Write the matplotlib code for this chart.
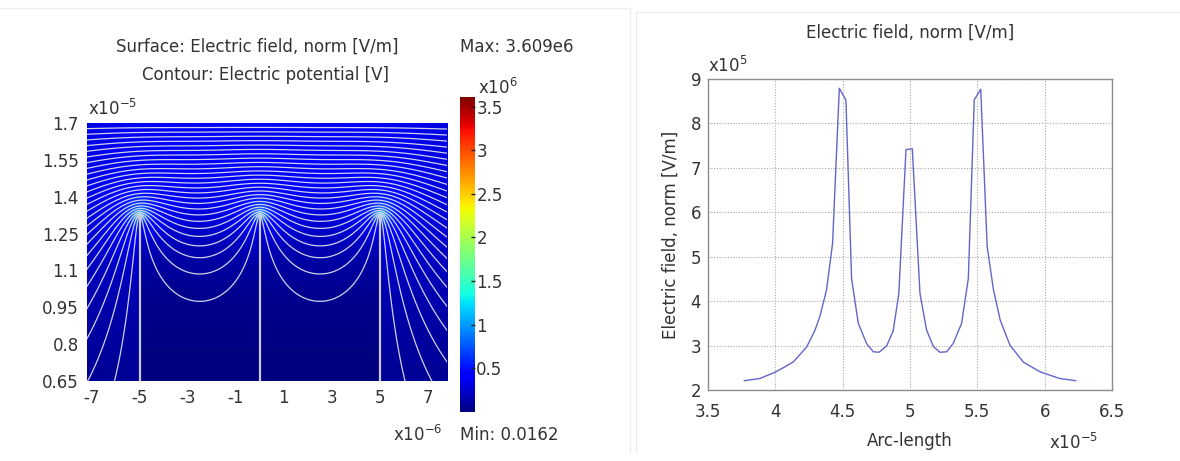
import numpy as np
import matplotlib
matplotlib.use("Agg")
import matplotlib.pyplot as plt
from matplotlib.colors import Normalize
from matplotlib.cm import ScalarMappable
from matplotlib.lines import Line2D

# ---------------------------------------------------------------------------
# Geometry of the electrode array (micrometres)
electrode_x = [-5.0, 0.0, 5.0]
electrode_tip_y = 13.2
domain_x = (-13.0, 13.0)
domain_y = (-1.0, 17.0)
top_potential = 2.0          # V on the upper boundary, electrodes and base at 0 V
n_contour_levels = 26

# Surface-plot range [V/m]
field_min = 0.0162
field_max = 3.609e6
cbar_ticks = [0.5, 1, 1.5, 2, 2.5, 3, 3.5]          # x10^6
cbar_labels = ["0.5", "1", "1.5", "2", "2.5", "3", "3.5"]

# Visible window of the surface plot
view_x = (-7.2, 7.8)          # x10^-6 m
view_y = (0.65, 1.7)          # x10^-5 m
left_xticks = [-7, -5, -3, -1, 1, 3, 5, 7]
left_xlabels = ["-7", "-5", "-3", "-1", "1", "3", "5", "7"]
left_yticks = [0.65, 0.8, 0.95, 1.1, 1.25, 1.4, 1.55, 1.7]
left_ylabels = ["0.65", "0.8", "0.95", "1.1", "1.25", "1.4", "1.55", "1.7"]

# Line graph: field norm along the cut line (arc length x10^-5 m, field x10^5 V/m)
arc_length = [3.77, 3.886, 4.005, 4.133, 4.233, 4.295, 4.33, 4.38, 4.425,
              4.475, 4.524, 4.566, 4.616, 4.677, 4.727, 4.77, 4.826, 4.875,
              4.917, 4.97, 5.017, 5.074, 5.123, 5.173, 5.222, 5.272, 5.321,
              5.383, 5.433, 5.477, 5.525, 5.573, 5.62, 5.67, 5.742, 5.841,
              5.965, 6.11, 6.23]
field_norm = [2.21, 2.26, 2.41, 2.63, 2.97, 3.35, 3.65, 4.25, 5.30,
              8.79, 8.53, 4.51, 3.50, 3.05, 2.86, 2.85, 2.99, 3.33,
              4.17, 7.41, 7.43, 4.17, 3.35, 2.98, 2.85, 2.86, 3.05,
              3.50, 4.51, 8.53, 8.77, 5.22, 4.25, 3.57, 3.01, 2.63,
              2.41, 2.26, 2.21]
right_xticks = [3.5, 4, 4.5, 5, 5.5, 6, 6.5]
right_xlabels = ["3.5", "4", "4.5", "5", "5.5", "6", "6.5"]
right_yticks = [2, 3, 4, 5, 6, 7, 8, 9]
right_ylabels = ["2", "3", "4", "5", "6", "7", "8", "9"]

TEXT = "#333333"
plt.rcParams["font.family"] = ["DejaVu Sans"]
plt.rcParams["font.size"] = 12


# ---------------------------------------------------------------------------
# Laplace solver (red-black SOR, insulating side walls)
def make_grid(h):
    x = np.linspace(domain_x[0], domain_x[1], int(round((domain_x[1] - domain_x[0]) / h)) + 1)
    y = np.linspace(domain_y[0], domain_y[1], int(round((domain_y[1] - domain_y[0]) / h)) + 1)
    fixed = np.zeros((y.size, x.size), bool)
    value = np.zeros((y.size, x.size))
    fixed[0, :] = True
    fixed[-1, :] = True
    value[-1, :] = top_potential
    for xe in electrode_x:
        col = np.argmin(np.abs(x - xe))
        rows = y <= electrode_tip_y + 1e-9
        fixed[rows, col] = True
        value[rows, col] = 0.0
    return x, y, fixed, value


def relax(phi, fixed, value, n_iter):
    ny, nx = phi.shape
    omega = 2.0 / (1.0 + np.sin(np.pi / max(nx, ny)))
    ii, jj = np.indices(phi.shape)
    masks = [((ii + jj) % 2 == c) & ~fixed for c in (0, 1)]
    phi = np.where(fixed, value, phi)
    for _ in range(n_iter):
        for m in masks:
            p = np.pad(phi, 1, mode="reflect")
            avg = 0.25 * (p[:-2, 1:-1] + p[2:, 1:-1] + p[1:-1, :-2] + p[1:-1, 2:])
            phi = np.where(m, phi + omega * (avg - phi), phi)
    return phi


def regrid(phi, xc, yc, xf, yf):
    tmp = np.array([np.interp(xf, xc, row) for row in phi])
    return np.array([np.interp(yf, yc, col) for col in tmp.T]).T


xc, yc, fc, vc = make_grid(0.25)
start = np.outer((yc - domain_y[0]) / (domain_y[1] - domain_y[0]), np.ones(xc.size))
phi_c = relax(start * top_potential, fc, vc, 2000)
xg, yg, fg, vg = make_grid(0.1)
phi = relax(regrid(phi_c, xc, yc, xg, yg), fg, vg, 1500)

gy, gx = np.gradient(phi, yg * 1e-6, xg * 1e-6)
e_norm = np.hypot(gx, gy)

# ---------------------------------------------------------------------------
fig = plt.figure(figsize=(11.8, 4.61), dpi=100)

ax = fig.add_axes([0.0737, 0.1735, 0.3051, 0.5597])
norm = Normalize(vmin=field_min, vmax=field_max)
h = xg[1] - xg[0]
ax.imshow(e_norm, origin="lower", aspect="auto", cmap="jet", norm=norm,
          interpolation="bilinear",
          extent=[xg[0] - h / 2, xg[-1] + h / 2,
                  (yg[0] - h / 2) / 10, (yg[-1] + h / 2) / 10])
levels = np.linspace(0, top_potential, n_contour_levels + 2)[1:-1]
ax.contour(xg, yg / 10, phi, levels=levels, colors="#cfd0ea", linewidths=0.9)
ax.vlines(electrode_x, view_y[0] - 0.1, electrode_tip_y / 10,
          colors="#c8c8d8", linewidths=1.6)
ax.set_xlim(*view_x)
ax.set_ylim(*view_y)
ax.set_xticks(left_xticks, left_xlabels)
ax.set_yticks(left_yticks, left_ylabels)
ax.tick_params(length=0, labelsize=12, labelcolor=TEXT, pad=6)
for s in ax.spines.values():
    s.set_visible(False)

fig.text(0.2178, 0.898, "Surface: Electric field, norm [V/m]", ha="center",
         va="center", color=TEXT, fontsize=12)
fig.text(0.2246, 0.837, "Contour: Electric potential [V]", ha="center",
         va="center", color=TEXT, fontsize=12)
fig.text(0.0745, 0.742, r"x10$^{-5}$", ha="left", va="bottom", color=TEXT, fontsize=12)
fig.text(0.333, 0.056, r"x10$^{-6}$", ha="left", va="center", color=TEXT, fontsize=12)
fig.text(0.3898, 0.898, "Max: 3.609e6", ha="left", va="center", color=TEXT, fontsize=12)
fig.text(0.3898, 0.056, "Min: 0.0162", ha="left", va="center", color=TEXT, fontsize=12)
fig.text(0.405, 0.797, r"x10$^{6}$", ha="left", va="baseline", color=TEXT, fontsize=12)

cax = fig.add_axes([0.3898, 0.1063, 0.0127, 0.6833])
cb = fig.colorbar(ScalarMappable(norm=norm, cmap="jet"), cax=cax)
cb.set_ticks([t * 1e6 for t in cbar_ticks], labels=cbar_labels)
cb.outline.set_visible(False)
cax.tick_params(length=3, width=1, direction="in", color="#202020",
                labelsize=12, labelcolor=TEXT, pad=1)

# ---------------------------------------------------------------------------
ax2 = fig.add_axes([0.6, 0.154, 0.3424, 0.6746])
ax2.plot(arc_length, field_norm, color="#6464cc", linewidth=1.0)
ax2.set_xlim(3.5, 6.5)
ax2.set_ylim(2, 9)
ax2.set_xticks(right_xticks, right_xlabels)
ax2.set_yticks(right_yticks, right_ylabels)
ax2.grid(True, linestyle=(0, (1, 1.5)), color="#a8a8a8", linewidth=0.8)
ax2.tick_params(axis="x", length=0, labelsize=12, labelcolor=TEXT, pad=9)
ax2.tick_params(axis="y", length=0, labelsize=12, labelcolor=TEXT, pad=5)
for s in ax2.spines.values():
    s.set_color("#8c8c8c")
    s.set_linewidth(1.0)
ax2.set_title("Electric field, norm [V/m]", fontsize=12, color=TEXT, pad=30)
ax2.set_xlabel("Arc-length", fontsize=12, color=TEXT, labelpad=8)
ax2.set_ylabel("Electric field, norm [V/m]", fontsize=12, color=TEXT, labelpad=8)
fig.text(0.6, 0.835, r"x10$^{5}$", ha="left", va="bottom", color=TEXT, fontsize=12)
fig.text(0.889, 0.04, r"x10$^{-5}$", ha="left", va="center", color=TEXT, fontsize=12)

# faint panel frames
for (x0, y0, x1, y1) in [(0.0, 0.983, 0.534, 0.983), (0.534, 0.983, 0.534, 0.017),
                         (0.539, 0.975, 1.0, 0.975), (0.539, 0.975, 0.539, 0.02)]:
    fig.add_artist(Line2D([x0, x1], [y0, y1], color="#ededed", linewidth=1.0))

fig.savefig("out.png", dpi=100)
